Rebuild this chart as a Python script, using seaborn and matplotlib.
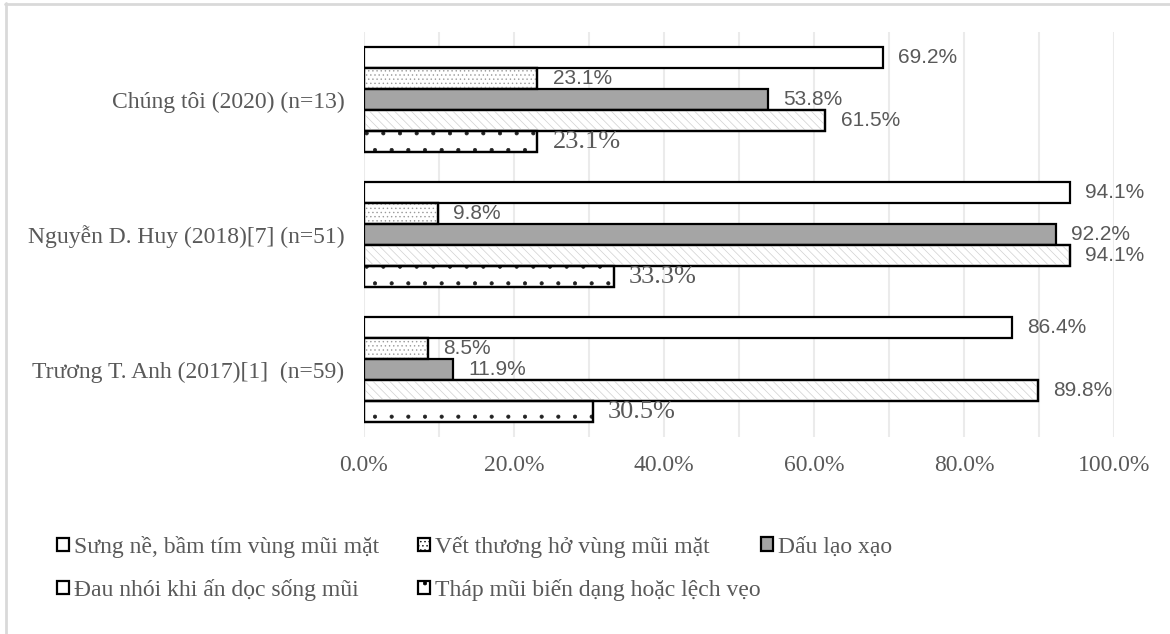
import matplotlib
matplotlib.use("Agg")
import matplotlib.pyplot as plt
from matplotlib.patches import Rectangle, Patch
from matplotlib.lines import Line2D
import pandas as pd
import seaborn as sns

# ---- data -----------------------------------------------------------------
studies = [
    "Chúng tôi (2020) (n=13)",
    "Nguyễn D. Huy (2018)[7] (n=51)",
    "Trương T. Anh (2017)[1]  (n=59)",
]
series = [
    "Sưng nề, bầm tím vùng mũi mặt",
    "Vết thương hở vùng mũi mặt",
    "Dấu lạo xạo",
    "Đau nhói khi ấn dọc sống mũi",
    "Tháp mũi biến dạng hoặc lệch vẹo",
]
swelling = [69.2, 94.1, 86.4]
wound = [23.1, 9.8, 8.5]
crepitus = [53.8, 92.2, 11.9]
pain = [61.5, 94.1, 89.8]
deformity = [23.1, 33.3, 30.5]
values = [swelling, wound, crepitus, pain, deformity]

x_ticks = [0, 20, 40, 60, 80, 100]

# ---- styling --------------------------------------------------------------
sns.set_style("white")
plt.rcParams["font.family"] = ["Liberation Serif", "DejaVu Serif"]
plt.rcParams["hatch.linewidth"] = 0.5
TEXT = "#595959"
SERIF = "Liberation Serif"
SANS = "Liberation Sans"

face = {
    series[0]: "white",
    series[1]: "white",
    series[2]: "#a5a5a5",
    series[3]: "white",
    series[4]: "white",
}
# hatch pattern and its colour per series index
hatch_spec = {1: ("....", "#9a9a9a"), 3: ("\\\\\\\\", "#d0d0d0"), 4: (".", "#222222")}

rows = []
for s, vals in zip(series, values):
    for st, v in zip(studies, vals):
        rows.append({"study": st, "series": s, "value": v})
df = pd.DataFrame(rows)

fig = plt.figure(figsize=(11.7, 6.34), dpi=100)
ax = fig.add_axes([364 / 1170, 1 - 437 / 634, 750 / 1170, 405 / 634])

sns.barplot(
    data=df, y="study", x="value", hue="series",
    order=studies, hue_order=series, palette=face, saturation=1,
    orient="h", width=0.78, edgecolor="black", linewidth=1.6,
    legend=False, ax=ax, zorder=3,
)

# patterned fills laid over the white bars, then the outline redrawn on top
for i, cont in enumerate(ax.containers):
    for bar in cont:
        if i in hatch_spec:
            h, c = hatch_spec[i]
            ax.add_patch(Rectangle(bar.get_xy(), bar.get_width(), bar.get_height(),
                                   facecolor="none", edgecolor=c, lw=0, hatch=h,
                                   zorder=3.1))
            ax.add_patch(Rectangle(bar.get_xy(), bar.get_width(), bar.get_height(),
                                   facecolor="none", edgecolor="black", lw=1.6,
                                   zorder=3.2))

# value labels
for i, cont in enumerate(ax.containers):
    for bar, v in zip(cont, values[i]):
        yc = bar.get_y() + bar.get_height() / 2
        if i == 4:
            ax.annotate(f"{v:.1f}%", xy=(v, yc), xytext=(11, 0),
                        textcoords="offset points", va="center", ha="left",
                        fontsize=19, family=SERIF, color=TEXT, zorder=5)
        else:
            ax.annotate(f"{v:.1f}%", xy=(v, yc), xytext=(11, 0),
                        textcoords="offset points", va="center", ha="left",
                        fontsize=15, family=SANS, color=TEXT, zorder=5)

# axes
ax.set_xlim(0, 100)
ax.set_ylim(2.5, -0.5)
ax.set_xticks(x_ticks)
ax.set_xticklabels([f"{t:.1f}%" for t in x_ticks])
ax.set_xticks(range(0, 101, 10), minor=True)
ax.grid(True, which="both", axis="x", color="#ebebeb", lw=1.5, zorder=0)
ax.grid(False, axis="y")
ax.set_axisbelow(True)
for sp in ax.spines.values():
    sp.set_visible(False)
ax.tick_params(axis="x", which="both", length=0, pad=13, labelsize=17,
               labelcolor=TEXT)
ax.tick_params(axis="y", length=0, pad=14, labelsize=17, labelcolor=TEXT)
ax.set_xlabel("")
ax.set_ylabel("")

# legend, laid out in two rows
handle_hatch = ["", "....", "", "", "."]
leg_pos = [(57, 547), (418, 547), (761, 547), (57, 590), (418, 590)]
for i, (s, (px, py)) in enumerate(zip(series, leg_pos)):
    h = Patch(facecolor=face[s], edgecolor="black", lw=1.6, hatch=handle_hatch[i])
    lg = fig.legend(handles=[h], labels=[s], loc="center left",
                    bbox_to_anchor=(px / 1170, 1 - py / 634),
                    bbox_transform=fig.transFigure, frameon=False,
                    borderpad=0, borderaxespad=0, handlelength=0.5,
                    handleheight=0.5, handletextpad=0.2,
                    prop={"family": SERIF, "size": 17}, labelcolor=TEXT)

# chart frame edges
fig.add_artist(Line2D([5 / 1170, 1], [1 - 4 / 634, 1 - 4 / 634],
                      transform=fig.transFigure, color="#d9d9d9", lw=2))
fig.add_artist(Line2D([6 / 1170, 6 / 1170], [0, 1 - 3 / 634],
                      transform=fig.transFigure, color="#d9d9d9", lw=2))

fig.savefig("out.png", dpi=100)
